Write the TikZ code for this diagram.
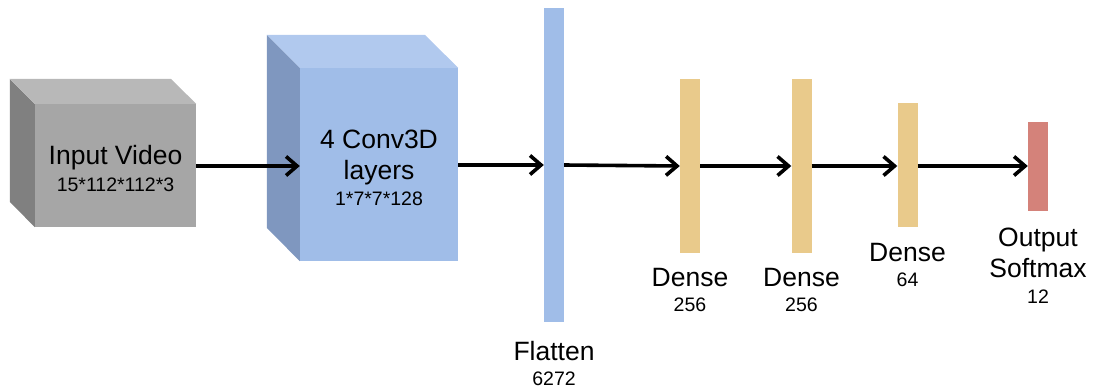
\documentclass[tikz,border=0pt]{standalone}
\usepackage{fontspec}
\setmainfont{Liberation Sans}
\usetikzlibrary{arrows.meta}
\definecolor{grayfront}{HTML}{A6A6A6}
\definecolor{graytop}{HTML}{B8B8B8}
\definecolor{grayside}{HTML}{808080}
\definecolor{bluefront}{HTML}{A0BDE8}
\definecolor{bluetop}{HTML}{B1C9EE}
\definecolor{blueside}{HTML}{7F97BF}
\definecolor{densecol}{HTML}{E9CA8B}
\definecolor{outcol}{HTML}{D4827A}
\begin{document}
\begin{tikzpicture}[x=1pt,y=-1pt,
  big/.style={font=\fontsize{26.5}{30}\selectfont, inner sep=0pt, anchor=base},
  small/.style={font=\fontsize{19.5}{22}\selectfont, inner sep=0pt, anchor=base},
  arr/.style={line width=3.6pt, -{Straight Barb[length=11pt,width=19pt,line width=3.6pt]}},
  face/.style={inner sep=0pt, draw=none},
  bar/.style={inner sep=0pt, draw=none, minimum width=20pt}]
\useasboundingbox (0,0) rectangle (1094,389);

% input cube
\node[face, fill=grayfront, minimum width=161pt, minimum height=123pt] (inp) at (115.5,165.5) {};
\fill[grayside] (inp.north west) -- ++(-25,-25) -- ++(0,123) -- (inp.south west) -- cycle;
\fill[graytop] (inp.north west) -- ++(-25,-25) -- ++(161,0) -- (inp.north east) -- cycle;
\node[big] (inpt1) at (115.5,164) {Input Video};
\node[small] (inpt2) at (115.5,191) {15*112*112*3};

% conv cube
\node[face, fill=bluefront, minimum width=158pt, minimum height=193pt] (conv) at (379,164.5) {};
\fill[blueside] (conv.north west) -- ++(-33,-33) -- ++(0,193) -- (conv.south west) -- cycle;
\fill[bluetop] (conv.north west) -- ++(-33,-33) -- ++(158,0) -- (conv.north east) -- cycle;
\node[big] (convt1) at (379,148) {4 Conv3D};
\node[big] (convt2) at (379,179) {layers};
\node[small] (convt3) at (379,205) {1*7*7*128};

% bars
\node[bar, fill=bluefront, minimum height=314pt] (flat) at (554,165) {};
\node[bar, fill=densecol, minimum height=174pt] (d1) at (690,166) {};
\node[bar, fill=densecol, minimum height=174pt] (d2) at (801.5,166) {};
\node[bar, fill=densecol, minimum height=124pt] (d3) at (907.5,165) {};
\node[bar, fill=outcol, minimum height=89pt] (out) at (1038,166.5) {};

% labels
\node[big] (flatt1) at (554,360) {Flatten};
\node[small] (flatt2) at (554,385) {6272};
\node[big] (d1t1) at (690,286) {Dense};
\node[small] (d1t2) at (690,311) {256};
\node[big] (d2t1) at (801.5,286) {Dense};
\node[small] (d2t2) at (801.5,311) {256};
\node[big] (d3t1) at (907.5,261) {Dense};
\node[small] (d3t2) at (907.5,286) {64};
\node[big] (outt1) at (1038,246) {Output};
\node[big] (outt2) at (1038,277) {Softmax};
\node[small] (outt3) at (1038,303) {12};

% arrows
\draw[arr] (inp.east |- 0,166) -- (conv.west |- 0,166);
\draw[arr] (conv.east |- 0,165) -- (flat.west |- 0,165);
\draw[arr] (flat.east |- 0,165) -- (d1.west |- 0,166);
\draw[arr] (d1.east |- 0,166) -- (d2.west |- 0,166);
\draw[arr] (d2.east |- 0,166) -- (d3.west |- 0,166);
\draw[arr] (d3.east |- 0,166) -- (out.west |- 0,166);
\end{tikzpicture}
\end{document}
